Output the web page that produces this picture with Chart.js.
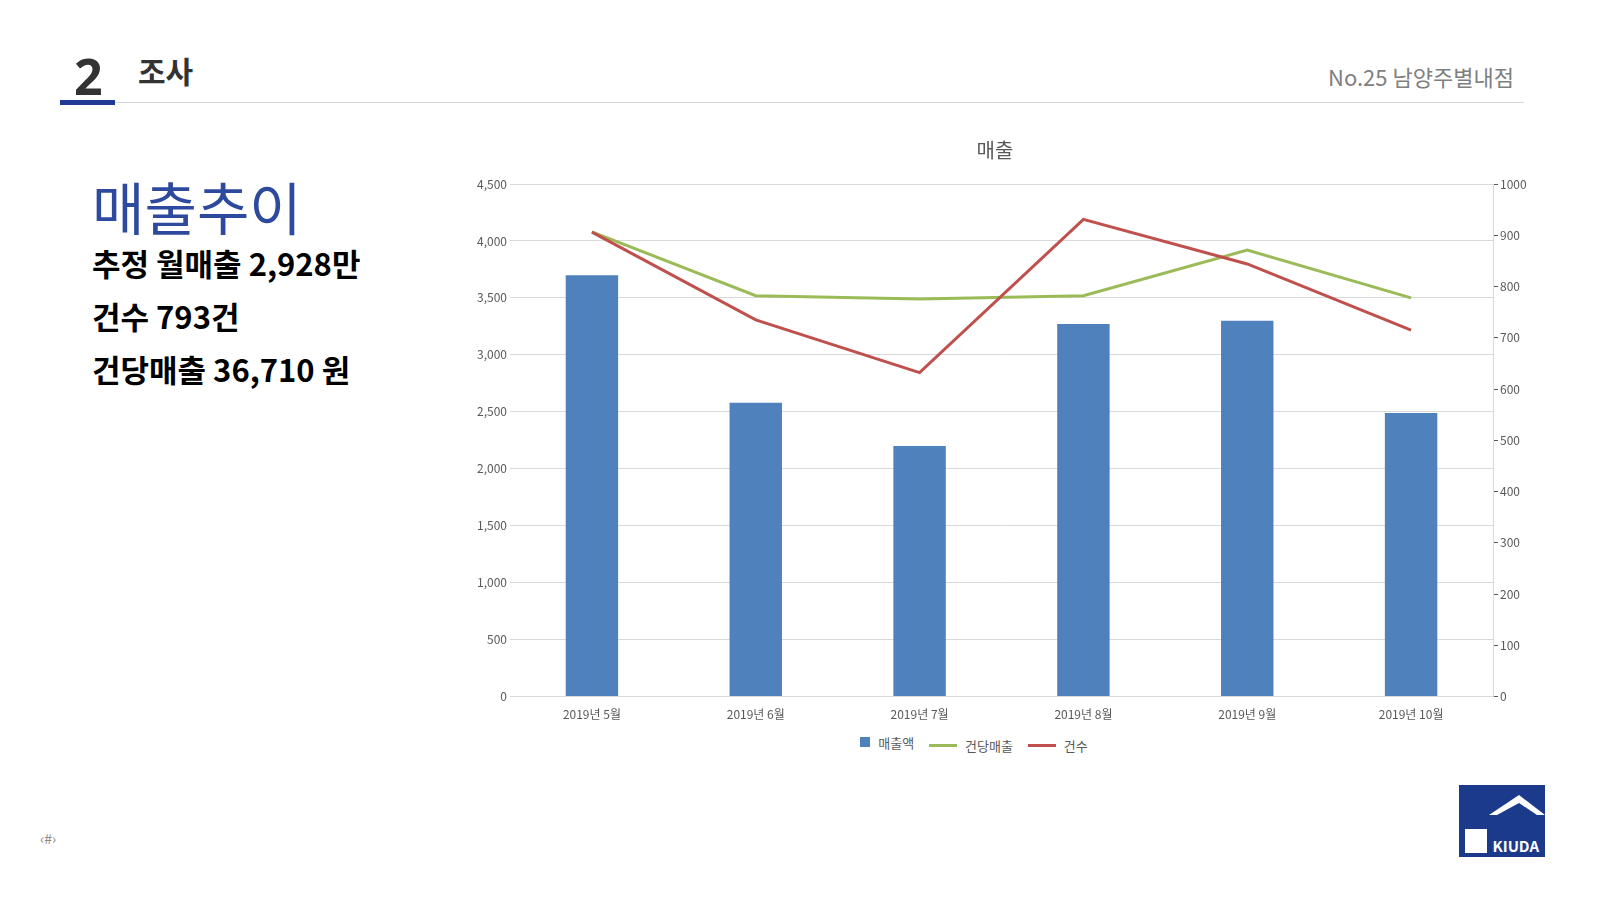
<!DOCTYPE html>
<html><head><meta charset="utf-8">
<script src="https://cdn.jsdelivr.net/npm/chart.js@4/dist/chart.umd.min.js"></script>
<style>
body{margin:0;width:1607px;height:904px;background:#fff;font-family:"Noto Sans CJK KR","Noto Sans",sans-serif;position:relative;overflow:hidden}
.abs{position:absolute}
.lg{display:inline-flex;align-items:center;margin-right:12px}
</style></head><body>
<div class="abs" style="left:74px;top:42px;font-size:50px;font-weight:bold;color:#333;font-family:'Open Sans','Noto Sans CJK KR'">2</div>
<div class="abs" style="left:138px;top:48px;font-size:30px;font-weight:bold;color:#333">조사</div>
<div class="abs" style="left:1328px;top:60px;font-size:22px;color:#7f7f7f">No.25 남양주별내점</div>
<div class="abs" style="left:60px;top:102px;width:1464px;height:1px;background:#d0d4e4"></div>
<div class="abs" style="left:60px;top:100px;width:55px;height:5px;background:#1f3a93"></div>
<div class="abs" style="left:92px;top:164px;font-size:57px;color:#2e4a9e">매출추이</div>
<div class="abs" style="left:92px;top:236px;font-size:31px;font-weight:bold;color:#000;line-height:53px">추정 월매출 2,928만<br>건수 793건<br>건당매출 36,710 원</div>
<div class="abs" style="left:40px;top:828px;font-size:14px;color:#888">‹#›</div>
<div class="abs" style="left:1459px;top:785px;width:86px;height:72px;background:#1b3a8c;overflow:hidden">
<svg width="86" height="72"><polygon points="30,30 60,10 86,30 78,30 60,18 38,30" fill="#fff"/><rect x="6" y="44" width="22" height="24" fill="#fff"/></svg>
<div class="abs" style="right:6px;top:50px;color:#fff;font-size:15px;font-weight:bold">KIUDA</div></div>
<div class="abs" style="left:440px;top:130px;width:1110px;height:595px"><canvas id="c"></canvas></div>
<div class="abs" style="left:0;width:1960px;top:732px;text-align:center;font-size:13px;color:#595959">
<span class="lg"><span style="width:10px;height:10px;background:#4f81bd;margin-right:8px"></span>매출액</span>
<span class="lg"><span style="width:28px;height:3px;background:#9bbb59;margin-right:8px"></span>건당매출</span>
<span class="lg"><span style="width:28px;height:3px;background:#c0504d;margin-right:8px"></span>건수</span></div>
<script>
const categories=["2019년 5월","2019년 6월","2019년 7월","2019년 8월","2019년 9월","2019년 10월"];
const sales=[3700,2580,2200,3270,3300,2490];
const perCase=[4080,3520,3490,3520,3920,3500];
const cases=[906,735,632,931,844,715];
const f="'Noto Sans CJK KR', sans-serif";
new Chart(document.getElementById('c'),{
data:{labels:categories,datasets:[
{type:'bar',label:'매출액',data:sales,backgroundColor:'#4f81bd',yAxisID:'y',barPercentage:0.32,categoryPercentage:1,order:3},
{type:'line',label:'건당매출',data:perCase,borderColor:'#9bbb59',borderWidth:3,pointRadius:0,yAxisID:'y',order:2},
{type:'line',label:'건수',data:cases,borderColor:'#c0504d',borderWidth:3,pointRadius:0,yAxisID:'y1',order:1}]},
options:{responsive:true,maintainAspectRatio:false,animation:false,
layout:{padding:0},
plugins:{title:{display:true,text:'매출',color:'#595959',font:{size:20,weight:'normal',family:f},padding:{top:8,bottom:22}},
legend:{display:false},tooltip:{enabled:false}},
scales:{x:{grid:{display:false},border:{color:'#d9d9d9'},ticks:{color:'#595959',font:{size:12,family:f}}},
y:{min:0,max:4500,ticks:{stepSize:500,color:'#595959',font:{size:12,family:f}},grid:{color:'#d9d9d9',drawTicks:false},border:{display:false},afterFit(s){s.width=70}},
y1:{position:'right',min:0,max:1000,ticks:{stepSize:100,color:'#595959',font:{size:12,family:f},padding:2,callback:v=>String(v)},grid:{drawOnChartArea:false,color:'#595959',tickLength:5},border:{color:'#d9d9d9'},afterFit(s){s.width=57}}}}
});
</script></body></html>
